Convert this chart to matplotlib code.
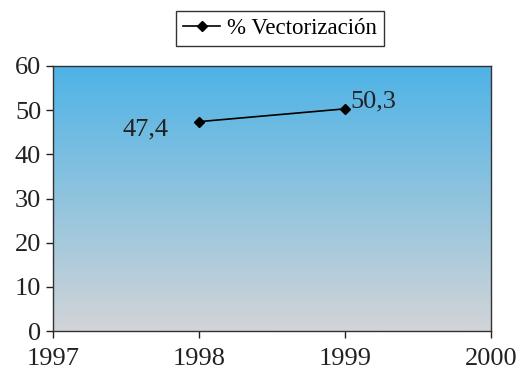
import matplotlib
matplotlib.use("Agg")
import matplotlib.pyplot as plt
import numpy as np
from matplotlib.colors import LinearSegmentedColormap

years = [1998, 1999]
values = [47.4, 50.3]
labels = ["47,4", "50,3"]
series_name = "% Vectorización"
xticks = [1997, 1998, 1999, 2000]
yticks = [0, 10, 20, 30, 40, 50, 60]

plt.rcParams['font.family'] = ['Liberation Serif', 'DejaVu Serif']

fig = plt.figure(figsize=(5.30, 3.81), dpi=100)
ax = fig.add_axes([53/530, 1-331/381, (491-53)/530, (331-66)/381])

cmap = LinearSegmentedColormap.from_list("g", ["#d2d4d7", "#4eb3e6"])
grad = np.linspace(0, 1, 256).reshape(-1, 1)
ax.imshow(grad, aspect='auto', cmap=cmap, origin='lower',
          extent=[0, 1, 0, 1], transform=ax.transAxes, zorder=0)

ax.plot(years, values, color='black', lw=1.2, marker='D', ms=5,
        label=series_name, zorder=3)
ax.annotate(labels[0], (years[0], values[0]), xytext=(-55, -10),
            textcoords='offset points', fontsize=19, color='#222222')
ax.annotate(labels[1], (years[1], values[1]), xytext=(4, 1),
            textcoords='offset points', fontsize=19, color='#222222')

ax.set_xlim(1997, 2000)
ax.set_ylim(0, 60)
ax.set_xticks(xticks)
ax.set_yticks(yticks)
ax.tick_params(axis='both', labelsize=19, colors='#222222', length=5, width=1)
ax.tick_params(axis='x', pad=7)
for s in ax.spines.values():
    s.set_color('#333333')
    s.set_linewidth(1)

leg = fig.legend(loc='center', bbox_to_anchor=(280/530, 1-28.5/381), fontsize=16.5,
                 frameon=True, fancybox=False, edgecolor='black',
                 handlelength=1.6, handletextpad=0.3, borderpad=0.3)
leg.get_frame().set_linewidth(1)

fig.savefig("out.png", dpi=100)
